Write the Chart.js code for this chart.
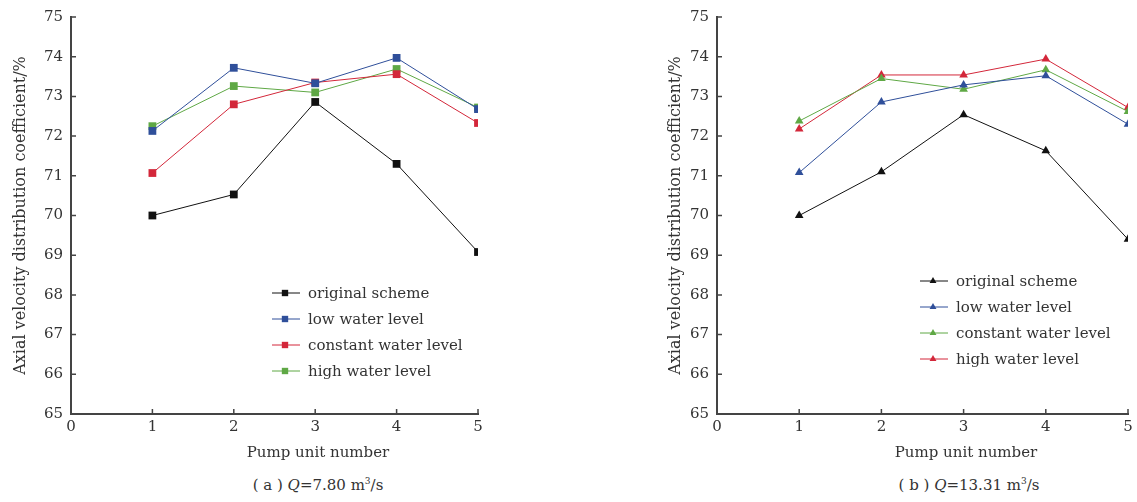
<!DOCTYPE html>
<html>
<head>
<meta charset="utf-8">
<script src="https://cdn.jsdelivr.net/npm/chart.js@4.4.1/dist/chart.umd.min.js"></script>
<style>
    body { margin: 0; background: #fff; width: 1137px; height: 502px; overflow: hidden; position: relative; }
    .box { position: absolute; top: 0; }
    .caption { position: absolute; font-family: 'DejaVu Serif', serif; font-size: 15px; color: #333; white-space: nowrap; transform: translateX(-50%); }
    .caption i { font-style: italic; }
</style>
</head>
<body>
<div class="box" style="left:0;width:500px;height:470px"><canvas id="chartA"></canvas></div>
<div class="box" style="left:646px;width:491px;height:470px"><canvas id="chartB"></canvas></div>
<div class="caption" style="left:318px;top:443px">Pump unit number</div>
<div class="caption" style="left:966px;top:443px">Pump unit number</div>
<div class="caption" style="left:318px;top:476px">( a ) <i>Q</i>=7.80 m<sup style="font-size:9px">3</sup>/s</div>
<div class="caption" style="left:969px;top:476px">( b ) <i>Q</i>=13.31 m<sup style="font-size:9px">3</sup>/s</div>
<script>
// --- data ---
const pumpUnits = [1, 2, 3, 4, 5];
const seriesNames = ['original scheme', 'low water level', 'constant water level', 'high water level'];

// (a) Q = 7.80
const aOriginal = [70.0, 70.53, 72.86, 71.3, 69.08];
const aLow = [72.13, 73.72, 73.33, 73.97, 72.68];
const aConstant = [71.07, 72.8, 73.35, 73.56, 72.33];
const aHigh = [72.25, 73.26, 73.1, 73.69, 72.72];

// (b) Q = 13.31
const bOriginal = [70.0, 71.1, 72.54, 71.63, 69.4];
const bLow = [71.08, 72.86, 73.29, 73.52, 72.3];
const bConstant = [72.38, 73.45, 73.18, 73.67, 72.62];
const bHigh = [72.18, 73.54, 73.54, 73.94, 72.72];

const BLACK = '#111111', BLUE = '#2f4f9a', RED = '#d3273a', GREEN = '#5fa845';
const FONT = "'DejaVu Serif', serif";

function makeSet(label, values, color, style, radius) {
    return {
        label: label,
        data: values.map((v, i) => ({ x: pumpUnits[i], y: v })),
        borderColor: color,
        backgroundColor: color,
        borderWidth: 1,
        showLine: true,
        pointStyle: style,
        pointRadius: radius,
        pointBorderWidth: 0
    };
}

// inward tick marks on the left and bottom axes
const innerTicks = {
    id: 'innerTicks',
    afterDraw(chart) {
        const ctx = chart.ctx;
        const xs = chart.scales.x, ys = chart.scales.y;
        const area = chart.chartArea;
        ctx.save();
        ctx.strokeStyle = '#444';
        ctx.lineWidth = 1.5;
        ctx.beginPath();
        xs.ticks.forEach(t => {
            const px = xs.getPixelForValue(t.value);
            ctx.moveTo(px, area.bottom);
            ctx.lineTo(px, area.bottom - 5);
        });
        ys.ticks.forEach(t => {
            const py = ys.getPixelForValue(t.value);
            ctx.moveTo(area.left, py);
            ctx.lineTo(area.left + 5, py);
        });
        ctx.stroke();
        ctx.restore();
    }
};

// legend drawn inside the plot area
const innerLegend = {
    id: 'innerLegend',
    afterDraw(chart, args, opts) {
        const ctx = chart.ctx;
        const area = chart.chartArea;
        const x0 = area.left + opts.x, y0 = area.top + opts.y;
        ctx.save();
        ctx.font = '15px ' + FONT;
        ctx.textBaseline = 'middle';
        chart.data.datasets.forEach((ds, i) => {
            const y = y0 + i * opts.rowGap;
            ctx.strokeStyle = ds.borderColor;
            ctx.lineWidth = 1;
            ctx.beginPath();
            ctx.moveTo(x0, y);
            ctx.lineTo(x0 + 28, y);
            ctx.stroke();
            ctx.fillStyle = ds.backgroundColor;
            Chart.helpers.drawPoint(ctx, { pointStyle: ds.pointStyle, radius: ds.pointRadius - 1, borderWidth: 0 }, x0 + 13, y);
            ctx.fillStyle = '#333';
            ctx.fillText(ds.label, x0 + 36, y + 1);
        });
        ctx.restore();
    }
};

function makeChart(id, datasets, legendPos, leftPad, rightPad) {
    return new Chart(document.getElementById(id), {
        type: 'scatter',
        data: { datasets: datasets },
        options: {
            responsive: true,
            maintainAspectRatio: false,
            animation: false,
            layout: { padding: { left: leftPad, right: rightPad, top: 16, bottom: 0 } },
            scales: {
                x: {
                    type: 'linear', min: 0, max: 5,
                    ticks: { stepSize: 1, color: '#333', padding: 4, font: { family: FONT, size: 15 } },
                    grid: { display: true, drawOnChartArea: false, drawTicks: false },
                    border: { color: '#444', width: 2 },
                    afterFit: s => { s.height = 56; }
                },
                y: {
                    min: 65, max: 75,
                    ticks: { stepSize: 1, color: '#333', padding: 8, font: { family: FONT, size: 15 } },
                    grid: { display: true, drawOnChartArea: false, drawTicks: false },
                    border: { color: '#444', width: 2 },
                    title: { display: true, text: 'Axial velocity distribution coefficient/%', color: '#333', padding: { top: 0, bottom: 2 }, font: { family: FONT, size: 16 } },
                    afterFit: s => { s.width = 71 - leftPad; }
                }
            },
            plugins: {
                legend: { display: false },
                tooltip: { enabled: false },
                innerLegend: legendPos
            }
        },
        plugins: [innerTicks, innerLegend]
    });
}

makeChart('chartA', [
    makeSet(seriesNames[0], aOriginal, BLACK, 'rect', 5.5),
    makeSet(seriesNames[1], aLow, BLUE, 'rect', 5.5),
    makeSet(seriesNames[2], aConstant, RED, 'rect', 5.5),
    makeSet(seriesNames[3], aHigh, GREEN, 'rect', 5.5)
], { x: 201, y: 276, rowGap: 26 }, 11, 22);

makeChart('chartB', [
    makeSet(seriesNames[0], bOriginal, BLACK, 'triangle', 5),
    makeSet(seriesNames[1], bLow, BLUE, 'triangle', 5),
    makeSet(seriesNames[2], bConstant, GREEN, 'triangle', 5),
    makeSet(seriesNames[3], bHigh, RED, 'triangle', 5)
], { x: 203, y: 264, rowGap: 26 }, 20, 9);
</script>
</body>
</html>
